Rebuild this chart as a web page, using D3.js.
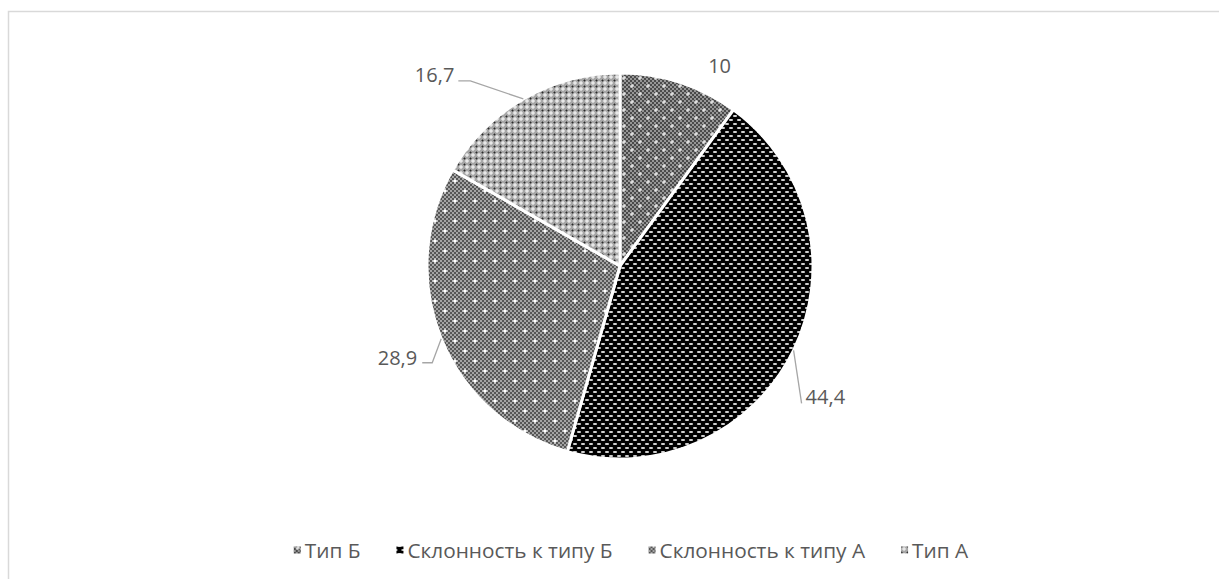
<!DOCTYPE html>
<html lang="ru">
<head>
<meta charset="utf-8">
<script src="https://cdn.jsdelivr.net/npm/d3@7"></script>
<style>
  html, body { margin: 0; padding: 0; background: #fff; }
  svg { display: block; }
  text { font-family: "Open Sans", "DejaVu Sans", sans-serif; fill: #595959; }
</style>
</head>
<body>
<svg id="chart" width="1219" height="579"></svg>
<script>
// Distribution by type (percent)
const categories = ["Тип Б", "Склонность к типу Б", "Склонность к типу А", "Тип А"];
const values = [10, 44.4, 28.9, 16.7];
const valueLabels = ["10", "44,4", "28,9", "16,7"];
const patternIds = ["pat-tipB", "pat-sklB", "pat-sklA", "pat-tipA"];

const W = 1219, H = 579;
const cx = 620, cy = 266, R = 193;

const svg = d3.select("#chart");

// Chart-area frame
svg.append("rect")
  .attr("x", 8.5).attr("y", 11.5)
  .attr("width", W + 50).attr("height", H + 50)
  .attr("fill", "#fff").attr("stroke", "#d9d9d9").attr("stroke-width", 1.5);

// ---- fill patterns ----
const defs = svg.append("defs");
function pattern(id, w, h, bg) {
  const p = defs.append("pattern").attr("id", id)
    .attr("patternUnits", "userSpaceOnUse").attr("width", w).attr("height", h);
  p.append("rect").attr("width", w).attr("height", h).attr("fill", bg);
  return p;
}
function plus(p, x, y, c, arm) {
  const a = arm || 1.5;
  p.append("rect").attr("x", x - a).attr("y", y - 0.5).attr("width", 2 * a).attr("height", 1).attr("fill", c);
  p.append("rect").attr("x", x - 0.5).attr("y", y - a).attr("width", 1).attr("height", 2 * a).attr("fill", c);
}
function checker(p, w, h, step, c) {
  for (let y = 0; y < h; y += step)
    for (let x = ((y / step) % 2) * step; x < w; x += 2 * step)
      p.append("rect").attr("x", x).attr("y", y).attr("width", step).attr("height", step).attr("fill", c);
}

// Тип Б: dark fine checker with white sparkles
{
  const p = pattern("pat-tipB", 16, 16, "#969696");
  checker(p, 16, 16, 2, "#4a4a4a");
  plus(p, 4, 4, "#ffffff", 2); plus(p, 12, 12, "#ffffff", 2);
}
// Склонность к типу Б: black with light horizontal dashes in brick order
{
  const p = pattern("pat-sklB", 8, 8, "#000000");
  p.append("rect").attr("x", 1).attr("y", 1).attr("width", 4).attr("height", 2).attr("rx", 1).attr("fill", "#d0d0d0");
  p.append("rect").attr("x", 5).attr("y", 5).attr("width", 4).attr("height", 2).attr("rx", 1).attr("fill", "#d0d0d0");
  p.append("rect").attr("x", -3).attr("y", 5).attr("width", 4).attr("height", 2).attr("rx", 1).attr("fill", "#d0d0d0");
}
// Склонность к типу А: mid-grey checker with white crosses
{
  const p = pattern("pat-sklA", 20, 20, "#a4a4a4");
  checker(p, 20, 20, 2, "#565656");
  plus(p, 5, 5, "#ffffff", 2.5); plus(p, 15, 15, "#ffffff", 2.5);
  p.append("rect").attr("x", 4).attr("y", 4).attr("width", 2).attr("height", 2).attr("fill", "#ffffff");
  p.append("rect").attr("x", 14).attr("y", 14).attr("width", 2).attr("height", 2).attr("fill", "#ffffff");
}
// Тип А: diamond lattice of white crosses and dark dots
{
  const p = pattern("pat-tipA", 6, 6, "#a6a6a6");
  plus(p, 3, 3, "#ffffff", 2);
  p.append("rect").attr("x", 0).attr("y", 0).attr("width", 1).attr("height", 1).attr("fill", "#2a2a2a");
  p.append("rect").attr("x", 5).attr("y", 0).attr("width", 1).attr("height", 1).attr("fill", "#6a6a6a");
  p.append("rect").attr("x", 0).attr("y", 5).attr("width", 1).attr("height", 1).attr("fill", "#6a6a6a");
  p.append("rect").attr("x", 1).attr("y", 0).attr("width", 1).attr("height", 1).attr("fill", "#6a6a6a");
  p.append("rect").attr("x", 0).attr("y", 1).attr("width", 1).attr("height", 1).attr("fill", "#6a6a6a");
}

// ---- pie ----
const pie = d3.pie().sort(null).value(d => d)
  .startAngle(0).endAngle(2 * Math.PI);
const arcs = pie(values);
const arc = d3.arc().innerRadius(0).outerRadius(R);

const g = svg.append("g").attr("transform", `translate(${cx},${cy})`);
g.selectAll("path.slice")
  .data(arcs)
  .join("path")
  .attr("class", "slice")
  .attr("d", arc)
  .attr("fill", (d, i) => `url(#${patternIds[i]})`)
  .attr("stroke", "#ffffff")
  .attr("stroke-width", 3)
  .attr("stroke-linejoin", "round");

// ---- data labels with leader lines ----
// offsets from the slice's outer edge point: leader bend and text anchor
const labelPlacement = [
  { leader: null, tx: 40, ty: -9, anchor: "middle" },
  { leader: [[8, 53]], tx: 12, ty: 54, anchor: "start" },
  { leader: [[-9, 24], [-19, 24]], tx: -24, ty: 26, anchor: "end" },
  { leader: [[-53, -18], [-65, -18]], tx: -69, ty: -17, anchor: "end" }
];

function edgePoint(d) {
  const a = (d.startAngle + d.endAngle) / 2;
  return [Math.sin(a) * R, -Math.cos(a) * R];
}

arcs.forEach((d, i) => {
  const [ex, ey] = edgePoint(d);
  const lp = labelPlacement[i];
  if (lp.leader) {
    const pts = [[ex, ey]].concat(lp.leader.map(([dx, dy]) => [ex + dx, ey + dy]));
    g.append("path")
      .attr("d", d3.line()(pts))
      .attr("fill", "none")
      .attr("stroke", "#a6a6a6")
      .attr("stroke-width", 1.3);
  }
  g.append("text")
    .attr("x", ex + lp.tx)
    .attr("y", ey + lp.ty)
    .attr("text-anchor", lp.anchor)
    .attr("font-size", 20)
    .text(valueLabels[i]);
});

// ---- legend ----
const legend = svg.append("g");
const legendY = 550;
const items = legend.selectAll("g.item").data(categories).join("g").attr("class", "item");
items.append("rect")
  .attr("width", 7).attr("height", 7)
  .attr("y", legendY - 3.5)
  .attr("fill", (d, i) => `url(#${patternIds[i]})`);
items.append("text")
  .attr("x", 11)
  .attr("y", legendY + 7.5)
  .attr("font-size", 20.8)
  .text(d => d);

let xPos = 0;
const gap = 36;
items.each(function () {
  const item = d3.select(this);
  item.attr("transform", `translate(${xPos},0)`);
  const w = 11 + item.select("text").node().getComputedTextLength();
  xPos += w + gap;
});
const totalW = xPos - gap;
legend.attr("transform", `translate(${631 - totalW / 2},0)`);
</script>
</body>
</html>
